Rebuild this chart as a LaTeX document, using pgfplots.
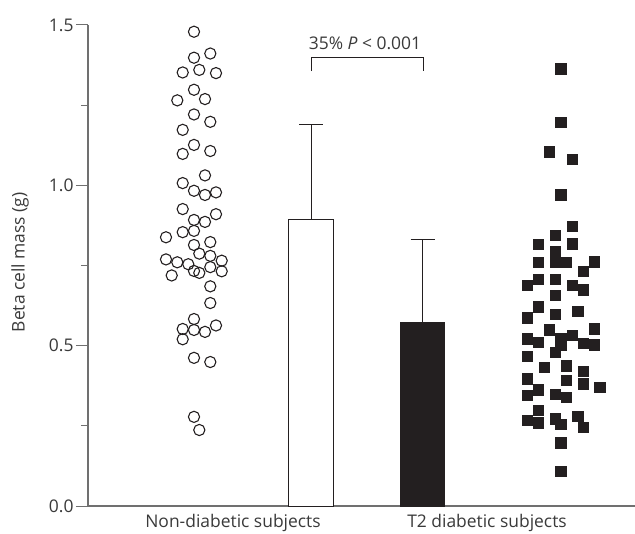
\documentclass[border=0pt]{standalone}
\usepackage{pgfplots}
\pgfplotsset{compat=1.18}
\usepackage{fontspec}
\setmainfont{Open Sans}
\definecolor{txt}{HTML}{3A3A3A}
\definecolor{axl}{HTML}{707070}
\definecolor{blk}{HTML}{231F20}
\begin{document}
\begin{tikzpicture}
\begin{axis}[
  at={(0,0)}, anchor=south west,
  scale only axis, width=547bp, height=481bp,
  xmin=88, xmax=635, ymin=0, ymax=1.5,
  axis x line*=bottom, axis y line*=left,
  axis line style={axl, line width=1.2pt, -},
  clip=false,
  ytick={0,0.5,1,1.5},
  yticklabels={0.0,0.5,1.0,1.5},
  minor ytick={0.25,0.75,1.25},
  tick align=outside,
  major tick length=12bp, minor tick length=7bp,
  every tick/.style={axl, line width=1pt},
  xtick={233,487},
  xticklabels={Non-diabetic subjects, T2 diabetic subjects},
  x tick style={draw=none},
  xticklabel style={yshift=7bp},
  ticklabel style={font=\fontsize{17.5}{20}\selectfont, text=txt},
  yticklabel style={xshift=1bp},
  /pgf/number format/assume math mode=true,
]
% y axis title
\node[rotate=90, anchor=center, text=txt, font=\fontsize{17.5}{20}\selectfont] at (axis cs:20,0.76) {Beta cell mass (g)};
% bars
\addplot[ybar, bar shift=0pt, bar width=44.5, fill=white, draw=blk, line width=1pt,
  error bars/.cd, y dir=plus, y explicit,
  error bar style={blk, line width=1pt},
  error mark options={rotate=90, mark size=12bp, line width=1pt, blk}]
  coordinates {(311,0.892) +- (0,0.299)};
\addplot[ybar, bar shift=0pt, bar width=44.5, fill=blk, draw=blk, line width=1pt,
  error bars/.cd, y dir=plus, y explicit,
  error bar style={blk, line width=1pt},
  error mark options={rotate=90, mark size=12bp, line width=1pt, blk}]
  coordinates {(422.5,0.572) +- (0,0.259)};
% bracket
\addplot[blk, line width=1pt, mark=none] coordinates {(311,1.356) (311,1.398) (423,1.398) (423,1.356)};
\node[anchor=base, text=txt, font=\fontsize{17.5}{20}\selectfont] at (axis cs:365,1.424) {35\% \textit{P} < 0.001};
% non-diabetic (open circles)
\addplot[only marks, mark=o, mark size=5.6bp, mark options={draw=blk, line width=1.1pt, fill=white}] coordinates {
(194,1.479) (210.3,1.411) (194,1.398) (182.7,1.352) (199.3,1.360) (216,1.350)
(194,1.298) (177.3,1.265) (205,1.269) (194,1.221) (210.3,1.198) (182.7,1.173)
(194,1.126) (182.7,1.098) (210.3,1.107) (205,1.031) (182.7,1.007) (194,0.983)
(205,0.970) (216,0.978) (182.7,0.926) (194,0.892) (205,0.886) (216,0.910)
(182.7,0.854) (194,0.858) (166,0.838) (210.3,0.823) (194,0.814) (199.3,0.787)
(210.3,0.780) (166,0.769) (177.3,0.760) (188.3,0.754) (221.7,0.765) (210.3,0.745)
(194,0.733) (199.3,0.727) (221.7,0.732) (171.7,0.719) (210.3,0.685) (210.3,0.633)
(194,0.583) (182.7,0.552) (194,0.549) (205,0.543) (216,0.563) (182.7,0.520)
(194,0.462) (210.3,0.449) (194,0.278) (199.3,0.237)
};
% T2 diabetic (filled squares)
\addplot[only marks, mark=square*, mark size=5.2bp, mark options={draw=blk, fill=blk, line width=0pt}] coordinates {
(561,1.363) (561,1.196) (549.7,1.104) (572.3,1.080) (561,0.970) (572.3,0.871)
(555.3,0.843) (538.7,0.816) (572.3,0.817) (555.3,0.794) (538.7,0.759) (555.3,0.759)
(566.7,0.759) (594.3,0.761) (583.3,0.731) (538.7,0.706) (555.3,0.706) (527.7,0.688)
(572.3,0.687) (583.3,0.673) (555.3,0.657) (538.7,0.620) (578,0.606) (527.7,0.586)
(555.3,0.597) (549.7,0.549) (594.3,0.552) (561,0.521) (572.3,0.531) (561,0.502)
(527.7,0.521) (538.7,0.509) (583.3,0.506) (594.3,0.502) (555.3,0.478) (527.7,0.466)
(544.7,0.432) (566.7,0.437) (583.3,0.419) (527.7,0.396) (566.7,0.391) (583.3,0.380)
(600,0.370) (538.7,0.362) (527.7,0.344) (555.3,0.347) (566.7,0.338) (538.7,0.297)
(527.7,0.266) (538.7,0.259) (555.3,0.271) (561,0.254) (578,0.280) (583.3,0.245)
(561,0.196) (561,0.107)
};
\end{axis}
\pgfresetboundingbox
\path[use as bounding box] (-88bp,-28bp) rectangle (547bp,506bp);
\end{tikzpicture}
\end{document}
